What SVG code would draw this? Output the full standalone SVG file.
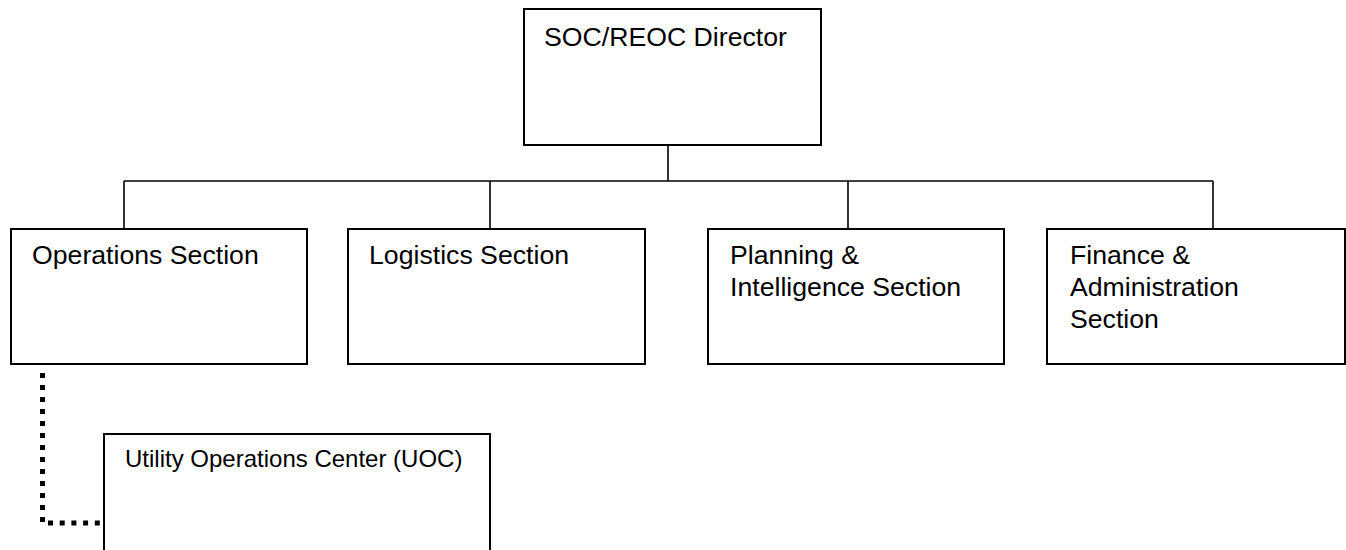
<svg xmlns="http://www.w3.org/2000/svg" width="1346" height="550" viewBox="0 0 1346 550">
<style>
.box{fill:#fff;stroke:#000;stroke-width:2}
.t{font-family:"Liberation Sans",Arial,sans-serif;font-size:26.67px;fill:#000}
.ts{font-family:"Liberation Sans",Arial,sans-serif;font-size:24px;fill:#000}
.c{stroke:#000;stroke-width:1.6;fill:none}
.d{stroke:#000;stroke-width:5;fill:none}
</style>
<rect width="1346" height="550" fill="#fff"/>
<g id="connectors">
<line class="c" x1="668" y1="145" x2="668" y2="181"/>
<line class="c" x1="124" y1="181" x2="1213" y2="181"/>
<line class="c" x1="124" y1="181" x2="124" y2="229"/>
<line class="c" x1="490" y1="181" x2="490" y2="229"/>
<line class="c" x1="848" y1="181" x2="848" y2="229"/>
<line class="c" x1="1213" y1="181" x2="1213" y2="229"/>
<line class="d" x1="42.5" y1="373" x2="42.5" y2="525" stroke-dasharray="5 7"/>
<line class="d" x1="48" y1="523" x2="103" y2="523" stroke-dasharray="5 6.7"/>
</g>
<g id="director">
<rect class="box" x="524" y="9" width="297" height="136"/>
<text class="t" x="544" y="45.5">SOC/REOC Director</text>
</g>
<g id="operations">
<rect class="box" x="11" y="229" width="296" height="135"/>
<text class="t" x="32" y="264">Operations Section</text>
</g>
<g id="logistics">
<rect class="box" x="348" y="229" width="297" height="135"/>
<text class="t" x="369" y="263.5">Logistics Section</text>
</g>
<g id="planning">
<rect class="box" x="708" y="229" width="296" height="135"/>
<text class="t" x="730" y="263.5">Planning &amp;</text>
<text class="t" x="730" y="295.5">Intelligence Section</text>
</g>
<g id="finance">
<rect class="box" x="1047" y="229" width="298" height="135"/>
<text class="t" x="1070" y="263.5">Finance &amp;</text>
<text class="t" x="1070" y="295.5">Administration</text>
<text class="t" x="1070" y="327.5">Section</text>
</g>
<g id="uoc">
<rect class="box" x="104" y="434" width="386" height="130"/>
<text class="ts" x="125" y="467">Utility Operations Center (UOC)</text>
</g>
</svg>
